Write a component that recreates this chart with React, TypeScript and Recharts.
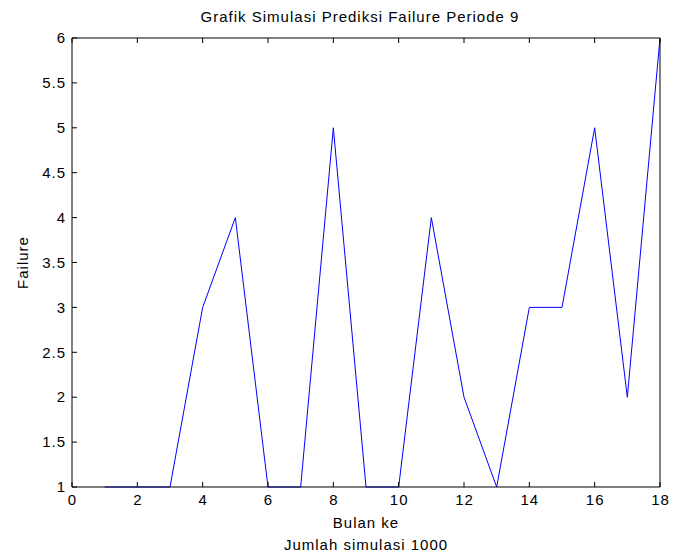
import { LineChart, Line, XAxis, YAxis, Label } from 'recharts';

const months = [1, 2, 3, 4, 5, 6, 7, 8, 9, 10, 11, 12, 13, 14, 15, 16, 17, 18];
const failures = [1, 1, 1, 3, 4, 1, 1, 5, 1, 1, 4, 2, 1, 3, 3, 5, 2, 6];
const xTicks = [0, 2, 4, 6, 8, 10, 12, 14, 16, 18];
const yTicks = [1, 1.5, 2, 2.5, 3, 3.5, 4, 4.5, 5, 5.5, 6];

const data = months.map((m, i) => ({ month: m, failure: failures[i] }));

const FONT = '"Liberation Sans", Arial, sans-serif';
const TICK_LEN = 5;
const textStyle = { fontFamily: FONT, fontSize: 15, letterSpacing: 1, fill: '#000' };

function BottomTick({ x, y, payload }: any) {
  return (
    <g>
      <line x1={x} y1={y} x2={x} y2={y - TICK_LEN} stroke="#000" />
      <text x={x + 0.5} y={y + 18} textAnchor="middle" style={textStyle}>
        {payload.value}
      </text>
    </g>
  );
}

function TopTick({ x, y }: any) {
  return <line x1={x} y1={y} x2={x} y2={y + TICK_LEN} stroke="#000" />;
}

function LeftTick({ x, y, payload }: any) {
  return (
    <g>
      <line x1={x} y1={y} x2={x + TICK_LEN} y2={y} stroke="#000" />
      <text x={x - 6} y={y} dy="0.35em" textAnchor="end" style={textStyle}>
        {payload.value}
      </text>
    </g>
  );
}

function RightTick({ x, y }: any) {
  return <line x1={x} y1={y} x2={x - TICK_LEN} y2={y} stroke="#000" />;
}

export default function App() {
  return (
    <div style={{ position: 'absolute', left: 0, top: 0, background: '#fff' }}>
      <LineChart
        width={683}
        height={555}
        data={data}
        margin={{ top: 37, right: 22, bottom: 67, left: 71 }}
      >
        <XAxis
          dataKey="month"
          type="number"
          domain={[0, 18]}
          ticks={xTicks}
          height={1}
          tickSize={0}
          tickMargin={0}
          tickLine={false}
          axisLine={{ stroke: '#000' }}
          tick={BottomTick}
          interval={0}
        >
          <Label
            content={({ viewBox }: any) => (
              <g>
                <text x={viewBox.x + viewBox.width / 2} y={viewBox.y + 41} textAnchor="middle" style={textStyle}>
                  Bulan ke
                </text>
                <text x={viewBox.x + viewBox.width / 2} y={viewBox.y + 63} textAnchor="middle" style={textStyle}>
                  Jumlah simulasi 1000
                </text>
              </g>
            )}
          />
        </XAxis>
        <XAxis
          xAxisId="top"
          orientation="top"
          dataKey="month"
          type="number"
          domain={[0, 18]}
          ticks={xTicks}
          height={1}
          tickSize={0}
          tickMargin={0}
          tickLine={false}
          axisLine={{ stroke: '#000' }}
          tick={TopTick}
          interval={0}
        >
          <Label
            content={({ viewBox }: any) => (
              <text
                x={viewBox.x + viewBox.width / 2 - 6}
                y={viewBox.y - 15}
                textAnchor="middle"
                style={textStyle}
              >
                Grafik Simulasi Prediksi Failure Periode 9
              </text>
            )}
          />
        </XAxis>
        <YAxis
          type="number"
          domain={[1, 6]}
          ticks={yTicks}
          width={1}
          tickSize={0}
          tickMargin={0}
          tickLine={false}
          axisLine={{ stroke: '#000' }}
          tick={LeftTick}
          interval={0}
        >
          <Label
            content={({ viewBox }: any) => {
              const cx = viewBox.x - 43;
              const cy = viewBox.y + viewBox.height / 2;
              return (
                <text
                  x={cx}
                  y={cy}
                  textAnchor="middle"
                  transform={`rotate(-90, ${cx}, ${cy})`}
                  style={textStyle}
                >
                  Failure
                </text>
              );
            }}
          />
        </YAxis>
        <YAxis
          yAxisId="right"
          orientation="right"
          type="number"
          domain={[1, 6]}
          ticks={yTicks}
          width={1}
          tickSize={0}
          tickMargin={0}
          tickLine={false}
          axisLine={{ stroke: '#000' }}
          tick={RightTick}
          interval={0}
        />
        <Line
          type="linear"
          dataKey="failure"
          stroke="#0000ff"
          strokeWidth={1}
          dot={false}
          isAnimationActive={false}
        />
      </LineChart>
    </div>
  );
}
